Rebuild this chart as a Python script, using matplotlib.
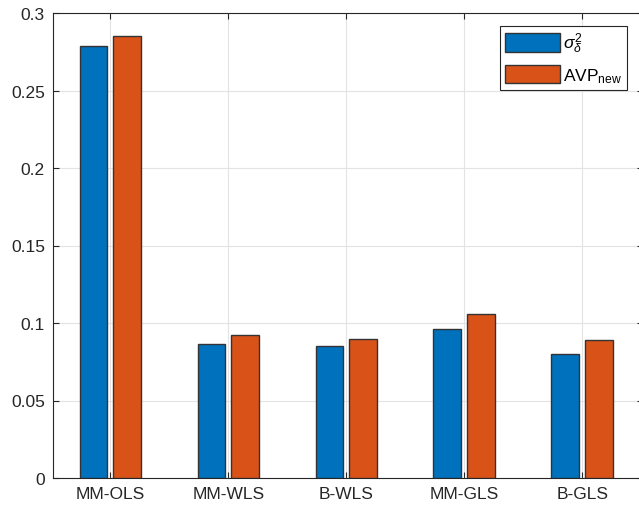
import matplotlib
matplotlib.use("Agg")
import matplotlib.pyplot as plt
import numpy as np

categories = ["MM-OLS", "MM-WLS", "B-WLS", "MM-GLS", "B-GLS"]
sigma_delta2 = [0.279, 0.0865, 0.085, 0.096, 0.080]
avp_new = [0.285, 0.092, 0.090, 0.106, 0.089]
yticks = [0, 0.05, 0.1, 0.15, 0.2, 0.25, 0.3]
ytick_labels = ["0", "0.05", "0.1", "0.15", "0.2", "0.25", "0.3"]

plt.rcParams['font.family'] = ['Liberation Sans', 'DejaVu Sans']
plt.rcParams['mathtext.fontset'] = 'custom'
plt.rcParams['mathtext.rm'] = 'Liberation Sans'
plt.rcParams['mathtext.it'] = 'Liberation Sans:italic'

fig = plt.figure(figsize=(6.39, 5.10), dpi=100)
ax = fig.add_axes([53.3/639, 31/510, (643-53.3)/639, (479-14)/510])

x = np.arange(1, len(categories) + 1)
w = 0.235
off = 0.143
ax.bar(x - off, sigma_delta2, w, color='#0072BD', edgecolor='#333333', linewidth=1.0,
       label=r'$\sigma_\delta^2$', zorder=3)
ax.bar(x + off, avp_new, w, color='#D95319', edgecolor='#333333', linewidth=1.0,
       label=r'AVP$_{\mathrm{new}}$', zorder=3)

ax.set_xlim(0.516, 5.516)
ax.set_ylim(0, 0.3)
ax.set_xticks(x)
ax.set_xticklabels(categories)
ax.set_yticks(yticks)
ax.set_yticklabels(ytick_labels)
ax.grid(True, color='#e3e3e3', linewidth=0.8, zorder=0)
ax.set_axisbelow(True)
ax.tick_params(direction='in', top=True, right=True, colors='#262626',
               labelsize=12.5, length=4, width=0.8, pad=6)
for s in ax.spines.values():
    s.set_color('#262626')
    s.set_linewidth(0.8)

leg = ax.legend(loc='upper right', bbox_to_anchor=(627/639, (510-26.7)/510),
                bbox_transform=fig.transFigure, borderaxespad=0, fancybox=False,
                edgecolor='#262626', framealpha=1, fontsize=12.5,
                handlelength=3.15, handleheight=1.25, handletextpad=0.15,
                borderpad=0.3, labelspacing=0.55)
leg.get_frame().set_linewidth(0.8)

fig.savefig("out.png", dpi=100)
